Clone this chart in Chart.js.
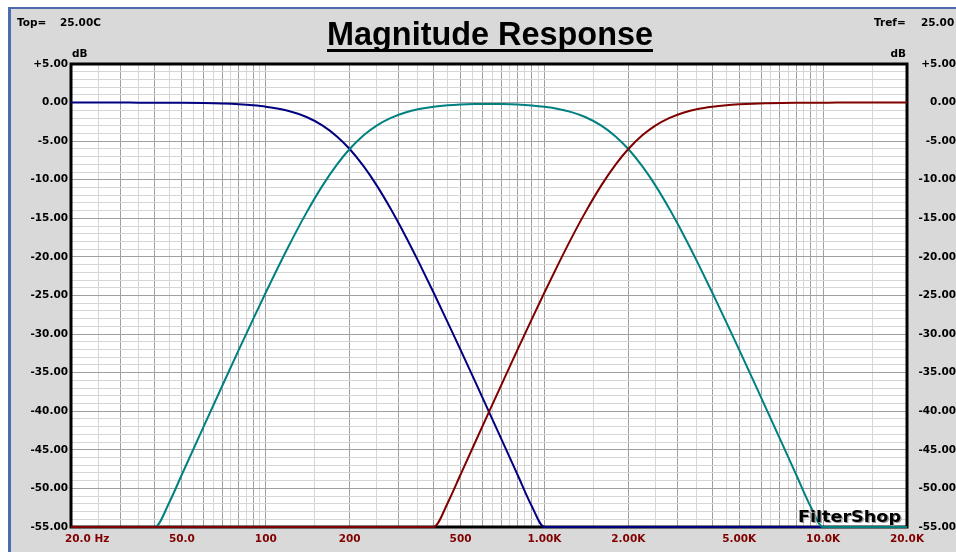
<!DOCTYPE html>
<html>
<head>
<meta charset="utf-8">
<title>Magnitude Response</title>
<script src="https://cdn.jsdelivr.net/npm/chart.js@4.4.1/dist/chart.umd.min.js"></script>
<style>
  html, body { margin: 0; padding: 0; background: #fff; }
  #frame {
    position: absolute; left: 8px; top: 7px; width: 948px; height: 545px;
    background: #d9d9d9; border-left: 3px solid #4b6cae; border-top: 2px solid #4b6cae;
    box-sizing: border-box;
  }
  #chart { position: absolute; left: 0; top: 0; }
</style>
</head>
<body>
<div id="frame"></div>
<canvas id="chart" width="956" height="552"></canvas>
<script>
// frequency points (Hz)
const freqs = [20, 25, 30, 35, 40, 45, 50, 60, 70, 80, 90, 100,
  120, 140, 160, 180, 200,
  225, 250, 280, 315, 355, 400, 450, 500, 560, 630, 710, 800, 900, 1000,
  1120, 1250, 1400, 1600, 1800, 2000,
  2250, 2500, 2800, 3150, 3550, 4000, 4500, 5000, 5600, 6300, 7100, 8000, 9000, 10000,
  11200, 12500, 14000, 16000, 18000, 20000];

// dB (anything below the floor sits on -55)
const lowpass = [0, 0, 0, -0.01, -0.01, -0.02, -0.03, -0.07, -0.13, -0.22, -0.35, -0.53,
  -1.06, -1.87, -2.98, -4.38, -6.02,
  -8.31, -10.73, -13.70, -17.09, -20.77, -24.61, -28.51, -32.05, -35.91, -39.95, -44.07, -48.20, -52.28, -55,
  -55, -55, -55, -55, -55, -55,
  -55, -55, -55, -55, -55, -55, -55, -55, -55, -55, -55, -55, -55, -55,
  -55, -55, -55, -55, -55, -55];

const bandpass = [-55, -55, -55, -55, -55, -51.85, -48.20, -41.90, -36.60, -32.05, -28.09, -24.61,
  -18.81, -14.26, -10.73, -8.04, -6.02,
  -4.21, -2.98, -2.01, -1.32, -0.84, -0.54, -0.35, -0.25, -0.19, -0.17, -0.19, -0.25, -0.37, -0.54,
  -0.82, -1.24, -1.87, -2.98, -4.38, -6.02,
  -8.31, -10.73, -13.70, -17.09, -20.77, -24.61, -28.51, -32.05, -35.91, -39.95, -44.07, -48.20, -52.28, -55,
  -55, -55, -55, -55, -55, -55];

const highpass = [-55, -55, -55, -55, -55, -55, -55, -55, -55, -55, -55, -55,
  -55, -55, -55, -55, -55,
  -55, -55, -55, -55, -55, -55, -51.85, -48.20, -44.28, -40.22, -36.12, -32.05, -28.09, -24.61,
  -20.96, -17.56, -14.26, -10.73, -8.04, -6.02,
  -4.21, -2.98, -2.01, -1.31, -0.83, -0.53, -0.33, -0.22, -0.14, -0.09, -0.05, -0.03, -0.02, -0.01,
  0, 0, 0, 0, 0, 0];

const xLabelValues = [20, 50, 100, 200, 500, 1000, 2000, 5000, 10000, 20000];
const xLabelTexts = ['20.0 Hz', '50.0', '100', '200', '500', '1.00K', '2.00K', '5.00K', '10.0K', '20.0K'];

const yMin = -55;
const yMax = 5;

// vertical grid: darker at 1..9 x decade, lighter at the half steps
const decades = [10, 100, 1000, 10000];
const gridMajor = [];
const gridMinor = [];
decades.forEach(d => {
  for (let m = 1; m <= 9; m++) {
    if (d * m >= 20 && d * m <= 20000) gridMajor.push(d * m);
    if (d * (m + 0.5) > 20 && d * (m + 0.5) < 20000) gridMinor.push(d * (m + 0.5));
  }
});
const minorSet = new Set(gridMinor);

const colors = {
  low: '#000080',
  band: '#008080',
  high: '#800000',
  gridDark: '#a0a0a0',
  gridLight: '#d6d6d6',
  label: '#000000',
  xLabel: '#800000'
};

const tickFont = { family: 'DejaVu Sans', weight: 'bold', size: 10.5 };

function fmtDb(v) {
  return (v > 0 ? '+' : '') + v.toFixed(2);
}

const yTicks = [];
for (let v = yMin; v <= yMax; v++) yTicks.push(v);

const decor = {
  id: 'decor',
  beforeDraw(chart) {
    const { ctx, chartArea: a } = chart;
    ctx.save();
    ctx.fillStyle = '#ffffff';
    ctx.fillRect(a.left, a.top, a.right - a.left, a.bottom - a.top);
    ctx.restore();
  },
  beforeDatasetsDraw(chart) {
    const { ctx, chartArea: a } = chart;
    ctx.save();
    ctx.strokeStyle = '#000000';
    ctx.lineWidth = 3;
    ctx.strokeRect(a.left, a.top, a.right - a.left, a.bottom - a.top);
    ctx.restore();
  },
  afterDatasetsDraw(chart) {
    const { ctx } = chart;
    ctx.save();
    // FilterShop mark
    ctx.font = 'bold 16px "DejaVu Sans"';
    ctx.textBaseline = 'alphabetic';
    const w = ctx.measureText('FilterShop').width;
    ctx.translate(798, 522);
    ctx.scale(103 / w, 1);
    ctx.fillStyle = '#9a9a9a';
    ctx.fillText('FilterShop', 1.2, 1.2);
    ctx.fillStyle = '#000000';
    ctx.fillText('FilterShop', 0, 0);
    ctx.restore();
  },
  afterDraw(chart) {
    const { ctx, chartArea: a, scales } = chart;
    ctx.save();
    // title
    ctx.font = 'bold 34px "Liberation Sans"';
    ctx.fillStyle = '#000000';
    ctx.textBaseline = 'alphabetic';
    const title = 'Magnitude Response';
    const tw = ctx.measureText(title).width;
    ctx.save();
    ctx.translate(327, 45);
    ctx.scale(326 / tw, 1);
    ctx.fillText(title, 0, 0);
    ctx.restore();
    ctx.fillRect(327, 49, 326, 3);

    ctx.font = 'bold 10.5px "DejaVu Sans"';
    ctx.textAlign = 'left';
    ctx.fillText('Top=', 17, 26);
    ctx.fillText('25.00C', 60, 26);
    ctx.fillText('Tref=', 874, 26);
    ctx.fillText('25.00', 921, 26);
    ctx.fillText('dB', a.left + 1, 57);
    ctx.textAlign = 'right';
    ctx.fillText('dB', a.right - 1, 57);

    // frequency labels
    ctx.fillStyle = colors.xLabel;
    xLabelValues.forEach((v, i) => {
      const px = scales.x.getPixelForValue(v);
      if (i === 0) {
        ctx.textAlign = 'left';
        ctx.fillText(xLabelTexts[i], px - 6, 542);
      } else {
        ctx.textAlign = 'center';
        ctx.fillText(xLabelTexts[i], px, 542);
      }
    });
    ctx.restore();
  }
};

function series(values) {
  return freqs.map((f, i) => ({ x: f, y: values[i] }));
}

new Chart(document.getElementById('chart'), {
  type: 'line',
  data: {
    datasets: [
      { label: 'Low', data: series(lowpass), borderColor: colors.low, order: 3 },
      { label: 'Band', data: series(bandpass), borderColor: colors.band, order: 2 },
      { label: 'High', data: series(highpass), borderColor: colors.high, order: 1 }
    ]
  },
  options: {
    responsive: false,
    devicePixelRatio: 1,
    animation: false,
    clip: false,
    layout: { padding: { top: 64, left: 0, right: 0, bottom: 0 } },
    elements: {
      line: { borderWidth: 2, cubicInterpolationMode: 'monotone', fill: false },
      point: { radius: 0 }
    },
    plugins: {
      legend: { display: false },
      tooltip: { enabled: false },
      title: { display: false }
    },
    scales: {
      x: {
        type: 'logarithmic',
        min: 20,
        max: 20000,
        afterBuildTicks: s => { s.ticks = gridMajor.concat(gridMinor).sort((a, b) => a - b).map(v => ({ value: v })); },
        afterFit: s => { s.height = 25; },
        ticks: { display: false },
        grid: {
          drawTicks: false,
          color: c => (c.tick && minorSet.has(c.tick.value)) ? colors.gridLight : colors.gridDark
        },
        border: { display: false }
      },
      y: {
        position: 'left',
        min: yMin,
        max: yMax,
        afterBuildTicks: s => { s.ticks = yTicks.map(v => ({ value: v })); },
        afterFit: s => { s.width = 71; },
        ticks: {
          autoSkip: false,
          padding: 3,
          color: colors.label,
          font: tickFont,
          callback: v => (v % 5 === 0 ? fmtDb(v) : '')
        },
        grid: {
          drawTicks: false,
          color: c => (c.tick && c.tick.value % 5 === 0) ? colors.gridDark : colors.gridLight
        },
        border: { display: false }
      },
      y2: {
        position: 'right',
        min: yMin,
        max: yMax,
        afterBuildTicks: s => { s.ticks = yTicks.map(v => ({ value: v })); },
        afterFit: s => { s.width = 49; },
        ticks: {
          autoSkip: false,
          padding: 3,
          crossAlign: 'far',
          color: colors.label,
          font: tickFont,
          callback: v => (v % 5 === 0 ? fmtDb(v) : '')
        },
        grid: { display: false, drawTicks: false },
        border: { display: false }
      }
    }
  },
  plugins: [decor]
});
</script>
</body>
</html>
